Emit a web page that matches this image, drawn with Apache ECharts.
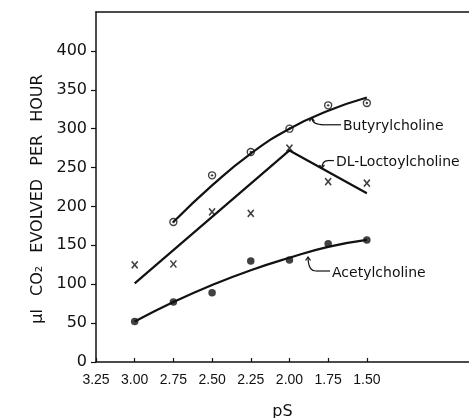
<!DOCTYPE html>
<html>
<head>
<meta charset="utf-8">
<script src="https://cdn.jsdelivr.net/npm/echarts@6/dist/echarts.min.js"></script>
<style>html,body{margin:0;padding:0;background:#fff}#c{width:469px;height:418px}</style>
</head>
<body>
<div id="c"></div>
<script>
// ---- data ----
const pS = [3.00, 2.75, 2.50, 2.25, 2.00, 1.75, 1.50];
const xTickLabels = [3.25, 3.00, 2.75, 2.50, 2.25, 2.00, 1.75, 1.50];
const yTickLabels = [0, 50, 100, 150, 200, 250, 300, 350, 400];
const butyrylPoints = [null, 180, 240, 270, 300, 330, 333];
const butyrylCurve  = [null, 180, 227, 268, 300, 323, 340];
const loctoylPoints = [125, 126, 193, 191, 275, 232, 230];
const loctoylLineX  = [3.00, 2.00, 1.50];
const loctoylLineY  = [101, 272, 217];
const acetylPoints  = [52, 77, 89, 130, 131, 152, 157];
const acetylCurve   = [52, 77, 99, 118, 134, 148, 157];
const yTitleWords = ['µl', 'CO₂', 'EVOLVED', 'PER', 'HOUR'];
// annotation anchors in data units: tip, elbow, line end
const annotations = [
  {text: 'Butyrylcholine',    tip: [1.855, 314], elbow: [1.777, 305], end: [1.667, 305], dir: 'up'},
  {text: 'DL-Loctoylcholine', tip: [1.790, 249], elbow: [1.751, 259], end: [1.713, 259], dir: 'down'},
  {text: 'Acetylcholine',     tip: [1.880, 135], elbow: [1.829, 117], end: [1.738, 117], dir: 'up'}
];

const pairs = (xs, ys) => xs.map((x, i) => ys[i] == null ? null : [x, ys[i]]).filter(d => d);

const chart = echarts.init(document.getElementById('c'), null, {renderer: 'canvas'});
const black = '#111';
const xCommon = {type: 'value', inverse: true, min: 0.84, max: 3.25, splitLine: {show: false}};
const yTitle = yTitleWords.map((w, i) => '{' + (i === yTitleWords.length - 1 ? 'last' : 'w') + '|' + w + '}').join(' ');
chart.setOption({
  animation: false,
  backgroundColor: '#fff',
  grid: {left: 96, right: 0, top: 12, bottom: 56, containLabel: false, outerBoundsMode: 'none'},
  xAxis: [
    Object.assign({}, xCommon, {
      position: 'bottom',
      name: 'pS', nameLocation: 'middle', nameGap: 42,
      nameTextStyle: {fontFamily: 'DejaVu Sans', fontSize: 16, color: black},
      axisLine: {show: true, lineStyle: {color: black, width: 1.5}},
      axisTick: {show: true, inside: true, length: 4, customValues: xTickLabels, lineStyle: {color: black, width: 1.2}},
      axisLabel: {show: true, customValues: xTickLabels, margin: 11, color: black,
        fontFamily: 'Liberation Sans', fontSize: 14,
        formatter: v => Number(v).toFixed(2)}
    }),
    Object.assign({}, xCommon, {
      position: 'top',
      axisLine: {show: true, lineStyle: {color: black, width: 1.5}},
      axisTick: {show: false}, axisLabel: {show: false}
    })
  ],
  yAxis: {
    type: 'value', min: 0, max: 450,
    name: yTitle, nameLocation: 'middle', nameGap: 50, nameRotate: 90,
    nameTextStyle: {fontFamily: 'DejaVu Sans', fontSize: 16, color: black,
      rich: {
        w: {fontFamily: 'DejaVu Sans', fontSize: 16, color: black, padding: [0, 4, 0, 4]},
        last: {fontFamily: 'DejaVu Sans', fontSize: 16, color: black, padding: [0, 28, 0, 4]}
      }},
    splitLine: {show: false},
    axisLine: {show: true, lineStyle: {color: black, width: 1.5}},
    axisTick: {show: true, length: 5, customValues: yTickLabels, lineStyle: {color: black, width: 1.2}},
    axisLabel: {show: true, customValues: yTickLabels, margin: 9, color: black,
      fontFamily: 'DejaVu Sans', fontSize: 16}
  },
  series: [
    {type: 'line', name: 'Butyrylcholine curve', data: pairs(pS, butyrylCurve), smooth: 0.5,
      showSymbol: false, lineStyle: {color: black, width: 2.2}},
    {type: 'line', name: 'DL-Loctoylcholine line', data: pairs(loctoylLineX, loctoylLineY),
      showSymbol: false, lineStyle: {color: black, width: 2.2}},
    {type: 'line', name: 'Acetylcholine curve', data: pairs(pS, acetylCurve), smooth: 0.5,
      showSymbol: false, lineStyle: {color: black, width: 2.2}},
    {type: 'scatter', name: 'Butyrylcholine', data: pairs(pS, butyrylPoints), symbol: 'circle', symbolSize: 7,
      itemStyle: {color: '#fff', borderColor: black, borderWidth: 1.4}},
    {type: 'scatter', name: 'Butyrylcholine dot', data: pairs(pS, butyrylPoints), symbol: 'circle', symbolSize: 2.4,
      itemStyle: {color: black}},
    {type: 'scatter', name: 'DL-Loctoylcholine', data: pairs(pS, loctoylPoints),
      symbol: 'path://M0,0L8,10M8,0L0,10', symbolSize: [6, 7],
      itemStyle: {color: 'none', borderColor: black, borderWidth: 1.6}},
    {type: 'scatter', name: 'Acetylcholine', data: pairs(pS, acetylPoints), symbol: 'circle', symbolSize: 7.5,
      itemStyle: {color: black}}
  ]
});

// annotation leaders and labels, positioned through the chart's own scales
const g = [];
annotations.forEach(a => {
  const t = chart.convertToPixel({gridIndex: 0}, a.tip);
  const e = chart.convertToPixel({gridIndex: 0}, a.elbow);
  const n = chart.convertToPixel({gridIndex: 0}, a.end);
  g.push({type: 'bezierCurve', shape: {x1: t[0], y1: t[1], x2: e[0], y2: e[1], cpx1: t[0], cpy1: e[1]},
    style: {stroke: black, lineWidth: 1.2, fill: null}});
  g.push({type: 'line', shape: {x1: e[0], y1: e[1], x2: n[0], y2: n[1]}, style: {stroke: black, lineWidth: 1.2}});
  const s = a.dir === 'up' ? 1 : -1;
  g.push({type: 'polyline', shape: {points: [[t[0] - 2.5, t[1] + 3.5 * s], [t[0], t[1]], [t[0] + 2.5, t[1] + 3.5 * s]]},
    style: {stroke: black, lineWidth: 1.2, fill: null}});
  g.push({type: 'text', x: n[0] + 2, y: n[1] + 2, style: {text: a.text, fill: black,
    font: '14px "DejaVu Sans"', textAlign: 'left', textVerticalAlign: 'middle'}});
});
chart.setOption({graphic: g});
</script>
</body>
</html>
